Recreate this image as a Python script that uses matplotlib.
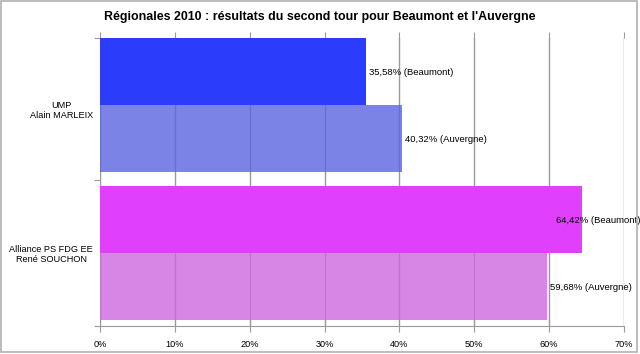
import matplotlib
matplotlib.use("Agg")
import matplotlib.pyplot as plt
from matplotlib.patches import Rectangle

plt.rcParams["font.family"] = ["Liberation Sans", "DejaVu Sans"]

# data
candidates = ["UMP\nAlain MARLEIX", "Alliance PS FDG EE\nRené SOUCHON"]
beaumont = [35.58, 64.42]
auvergne = [40.32, 59.68]
beaumont_colors = ["#2b3cfb", "#e03ffb"]
auvergne_colors = ["#5a66e0", "#cf68e0"]
x_ticks = [0, 10, 20, 30, 40, 50, 60, 70]

fig = plt.figure(figsize=(6.4, 3.54), dpi=100)
ax = fig.add_axes([100 / 640, 1 - 326 / 354, 524 / 640, 288 / 354])

bar_h = 0.465
group_top = [0.0, 1.028]
label_y = [0.49, 1.49]
label_max_x = 60.9  # keep the last label inside the figure, as the reference does

ax.set_xlim(0, 70)
ax.set_ylim(2.0, 0.0)
ax.set_axisbelow(True)
ax.xaxis.grid(True, color="#9a9a9a", linewidth=1.0)

for i in range(len(candidates)):
    y0 = group_top[i]
    ax.barh(y0 + bar_h / 2, beaumont[i], height=bar_h, color=beaumont_colors[i],
            edgecolor="none", zorder=2)
    ax.barh(y0 + 1.5 * bar_h, auvergne[i], height=bar_h, color=auvergne_colors[i],
            edgecolor="none", alpha=0.8, zorder=2)
    ax.text(min(beaumont[i] + 0.4, label_max_x), y0 + bar_h / 2 + 0.01,
            f"{beaumont[i]:.2f}".replace(".", ",") + "% (Beaumont)",
            fontsize=6.8, va="center", ha="left", zorder=3)
    ax.text(min(auvergne[i] + 0.4, label_max_x), y0 + 1.5 * bar_h + 0.01,
            f"{auvergne[i]:.2f}".replace(".", ",") + "% (Auvergne)",
            fontsize=6.8, va="center", ha="left", zorder=3)

ax.set_xticks(x_ticks)
ax.set_xticklabels([f"{t}%" for t in x_ticks], fontsize=6.6)
ax.tick_params(axis="x", top=True, bottom=True, length=4, color="#9a9a9a",
               pad=6, direction="out")

ax.set_yticks([0.0, 0.986, 2.0])
ax.set_yticklabels([])
ax.set_yticks(label_y, minor=True)
ax.set_yticklabels(candidates, minor=True, fontsize=6.6, ha="right",
                   multialignment="center")
ax.tick_params(axis="y", which="major", length=4, color="#9a9a9a")
ax.tick_params(axis="y", which="minor", length=0, pad=5)

for s in ["top", "right", "left"]:
    ax.spines[s].set_visible(False)
ax.spines["bottom"].set_color("#9a9a9a")

fig.text(0.5, 1 - 17 / 354, "Régionales 2010 : résultats du second tour pour Beaumont et l'Auvergne",
         ha="center", va="center", fontsize=8.9, fontweight="bold")

fig.patches.append(Rectangle((0.002, 0.006), 0.994, 0.99, transform=fig.transFigure,
                             fill=False, edgecolor="#b0b0b0", linewidth=1.2))

fig.savefig("out.png", dpi=100)
